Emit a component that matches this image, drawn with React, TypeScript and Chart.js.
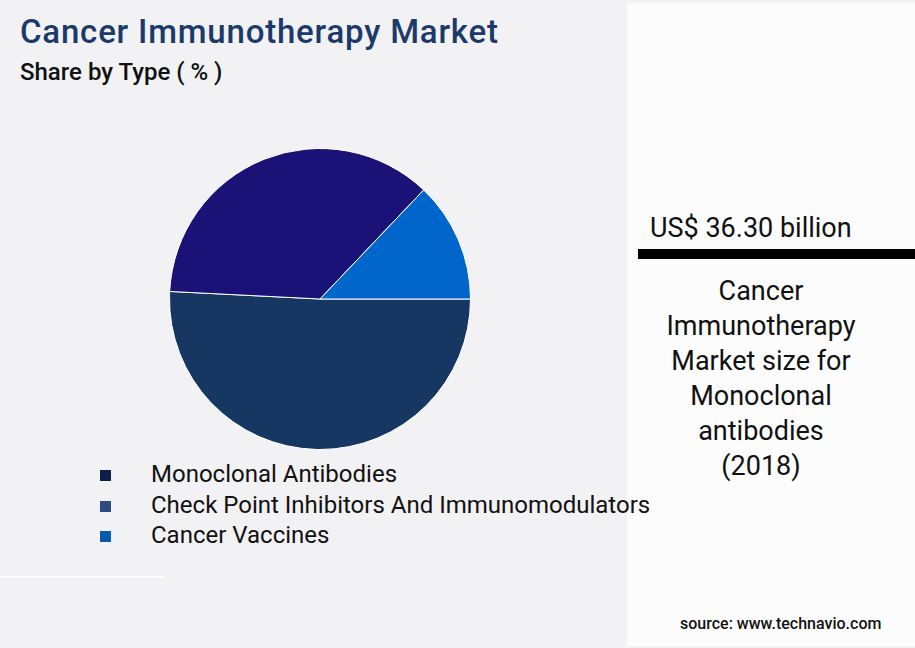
import React, { useEffect, useRef } from 'react'
import { Chart, registerables } from 'chart.js'

Chart.register(...registerables)

const categories = [
  'Monoclonal Antibodies',
  'Check Point Inhibitors And Immunomodulators',
  'Cancer Vaccines',
]
const shares = [50.8, 36.3, 12.9]
const sliceColors = ['#173763', '#1a1277', '#0066cc']
const legendColors = ['#0b1f4b', '#2e4a80', '#0a5ab0']
const calloutValue = 'US$ 36.30 billion'
const calloutLines = ['Cancer', 'Immunotherapy', 'Market size for', 'Monoclonal', 'antibodies', '(2018)']

const font = 'Roboto, "Noto Sans", sans-serif'

const App: React.FC = () => {
  const chartRef = useRef<HTMLCanvasElement | null>(null)

  useEffect(() => {
    document.body.style.margin = '0'
    if (!chartRef.current) return

    const chart = new Chart(chartRef.current, {
      type: 'pie',
      data: {
        labels: categories,
        datasets: [
          {
            data: shares,
            backgroundColor: sliceColors,
            borderColor: '#ffffff',
            borderWidth: 1,
          },
        ],
      },
      options: {
        responsive: false,
        animation: false,
        rotation: 90, // first slice starts at 3 o'clock
        layout: { padding: 0 },
        plugins: {
          legend: { display: false },
          tooltip: { enabled: false },
        },
      },
    })

    return () => {
      chart.destroy()
    }
  }, [])

  return (
    <div
      style={{
        position: 'relative',
        width: 915,
        height: 648,
        background: '#f2f2f5',
        fontFamily: font,
        overflow: 'hidden',
      }}
    >
      <div
        style={{
          position: 'absolute',
          left: 20,
          top: 12,
          fontSize: 33,
          letterSpacing: 0.8,
          fontWeight: 500,
          color: '#1b3a6b',
          whiteSpace: 'nowrap',
        }}
      >
        Cancer Immunotherapy Market
      </div>
      <div
        style={{
          position: 'absolute',
          left: 20,
          top: 58,
          fontSize: 24,
          fontWeight: 500,
          color: '#111',
          whiteSpace: 'nowrap',
        }}
      >
        Share by Type ( % )
      </div>

      <canvas
        ref={chartRef}
        width={302}
        height={302}
        style={{ position: 'absolute', left: 169, top: 148, width: 302, height: 302 }}
      />

      <div
        style={{
          position: 'absolute',
          left: 0,
          top: 576,
          width: 165,
          height: 2,
          background: '#fcfcfc',
        }}
      />

      <div
        style={{
          position: 'absolute',
          left: 627,
          top: 3,
          width: 288,
          height: 643,
          background: '#fcfcfc',
        }}
      >
        <div
          style={{
            position: 'absolute',
            left: 23,
            top: 209,
            fontSize: 27,
            color: '#111',
            whiteSpace: 'nowrap',
          }}
        >
          {calloutValue}
        </div>
        <div
          style={{
            position: 'absolute',
            left: 11,
            top: 246,
            width: 277,
            height: 10,
            background: '#000',
          }}
        />
        <div
          style={{
            position: 'absolute',
            left: 0,
            top: 271,
            width: 268,
            textAlign: 'center',
            fontSize: 27,
            lineHeight: '35px',
            color: '#111',
          }}
        >
          {calloutLines.map(l => (
            <div key={l}>{l}</div>
          ))}
        </div>
        <div
          style={{
            position: 'absolute',
            left: 53,
            top: 611,
            fontSize: 16,
            fontWeight: 500,
            color: '#111',
            whiteSpace: 'nowrap',
          }}
        >
          source: www.technavio.com
        </div>
      </div>

      {categories.map((c, i) => (
        <div
          key={c}
          style={{
            position: 'absolute',
            left: 100,
            top: 460 + i * 30.5,
            height: 28,
            whiteSpace: 'nowrap',
            zIndex: 2,
          }}
        >
          <span
            style={{
              position: 'absolute',
              left: 0,
              top: 10,
              width: 11,
              height: 11,
              background: legendColors[i],
            }}
          />
          <span style={{ position: 'absolute', left: 51, top: 0, fontSize: 24, color: '#111' }}>
            {c}
          </span>
        </div>
      ))}
    </div>
  )
}

export default App
